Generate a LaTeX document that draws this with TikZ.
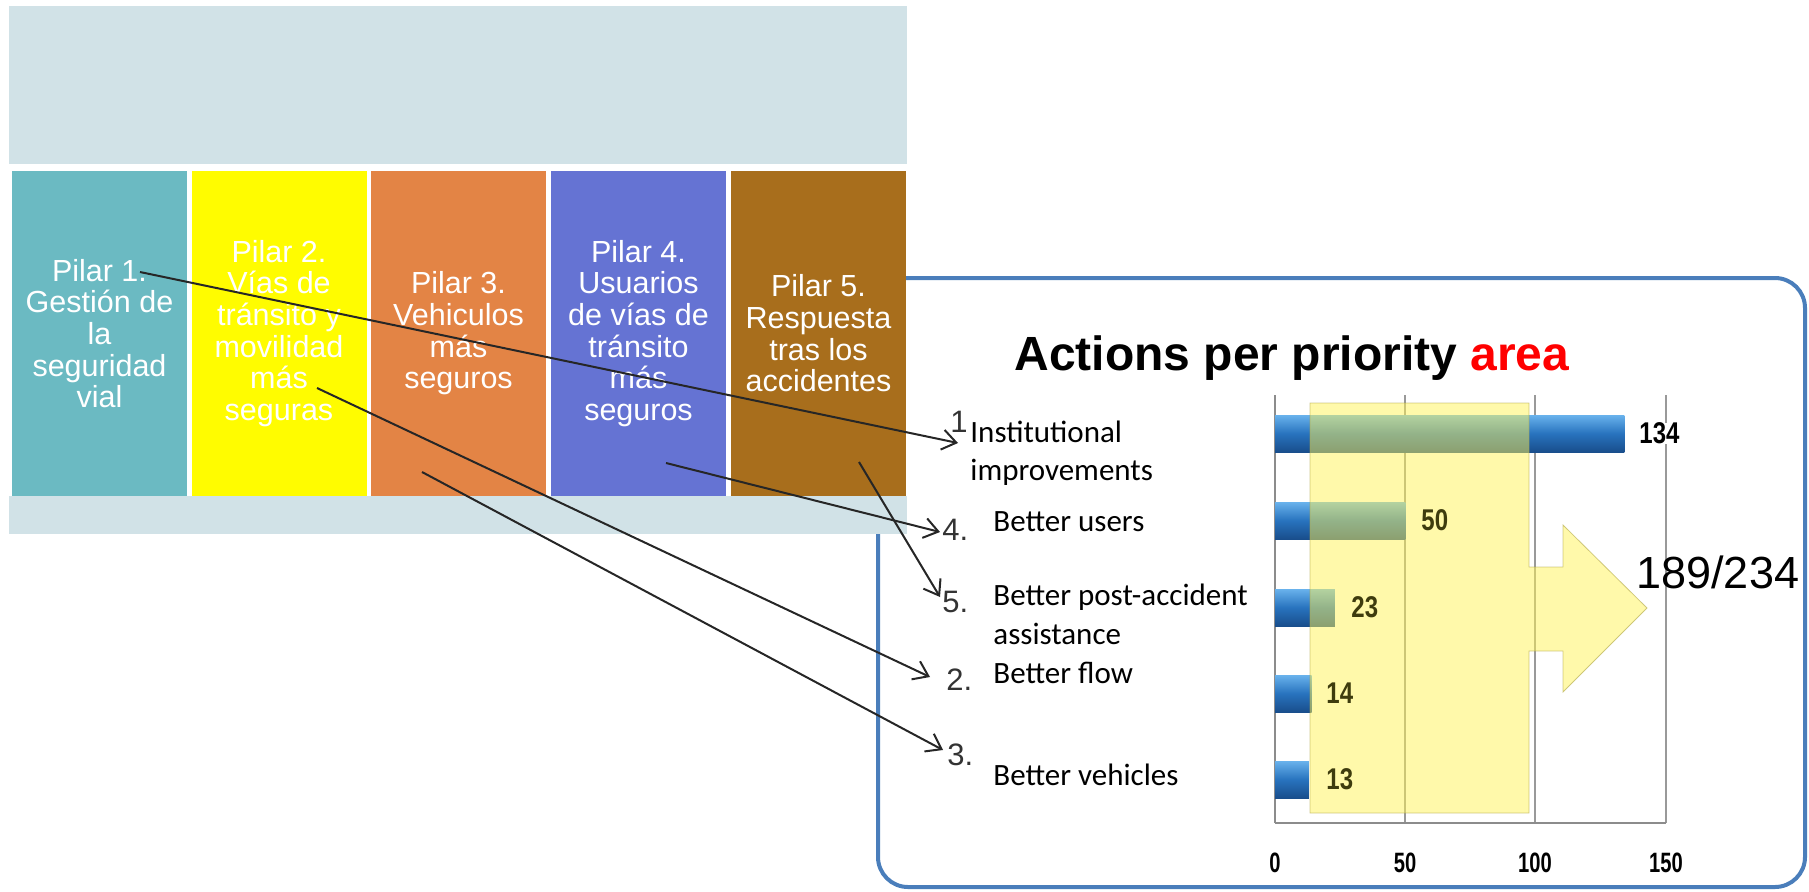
\documentclass[tikz,border=0pt]{standalone}
\usepackage{fontspec}
\setmainfont{Liberation Sans}
\newfontfamily\calibfont{Carlito}
\newfontfamily\narrowfont[FakeStretch=0.8]{Liberation Sans}
\newfontfamily\tickfont[FakeStretch=0.72]{Liberation Sans}
\usetikzlibrary{arrows.meta}

\definecolor{bandgray}{RGB}{209,226,231}
\definecolor{pilarA}{RGB}{107,186,194}
\definecolor{pilarB}{RGB}{255,252,0}
\definecolor{pilarC}{RGB}{227,132,69}
\definecolor{pilarD}{RGB}{101,115,211}
\definecolor{pilarE}{RGB}{168,110,28}
\definecolor{panelblue}{RGB}{74,126,187}
\definecolor{barlight}{RGB}{105,178,236}
\definecolor{barmid}{RGB}{40,115,190}
\definecolor{bardark}{RGB}{25,78,140}
\definecolor{hilite}{RGB}{255,243,85}
\definecolor{hiliteedge}{RGB}{175,165,70}
\definecolor{olivetext}{RGB}{62,60,14}

\begin{document}
\begin{tikzpicture}[x=0.5pt, y=-0.5pt,
  pilar/.style={minimum width=87.5pt, minimum height=162.5pt, inner sep=0pt, outer sep=0pt,
    text=white, align=center, font=\fontsize{15.25pt}{15.85pt}\selectfont},
  itemlabel/.style={anchor=base west, inner sep=0pt, font=\calibfont\fontsize{15.5pt}{19pt}\selectfont},
  itemnum/.style={anchor=base west, inner sep=0pt, text=black!80, font=\fontsize{15.5pt}{18pt}\selectfont},
  barval/.style={anchor=west, inner sep=0pt, font=\narrowfont\bfseries\fontsize{15pt}{18pt}\selectfont},
  tick/.style={inner sep=0pt, font=\tickfont\bfseries\fontsize{14pt}{17pt}\selectfont},
  link/.style={-{Straight Barb[length=7pt,width=10pt]}, line width=1pt, black!85}]

\useasboundingbox (0,0) rectangle (1809,891);

% panel with the chart, partly hidden by the pillars
\draw[panelblue, line width=2pt, rounded corners=15pt] (878,278) rectangle (1805,887);

% bands and pillars
\fill[bandgray] (9,6) rectangle (907,164);
\fill[bandgray] (9,496) rectangle (907,534);
\node[pilar, fill=pilarA] (p1) at (99.5,333.5) {Pilar 1.\\Gestión de\\la\\seguridad\\vial};
\node[pilar, fill=pilarB] (p2) at (279,333.5) {Pilar 2.\\Vías de\\tránsito y\\movilidad\\más\\seguras};
\node[pilar, fill=pilarC] (p3) at (458.5,333.5) {Pilar 3.\\Vehiculos\\más\\seguros};
\node[pilar, fill=pilarD] (p4) at (638.5,333.5) {Pilar 4.\\Usuarios\\de vías de\\tránsito\\más\\seguros};
\node[pilar, fill=pilarE] (p5) at (818.5,333.5) {Pilar 5.\\Respuesta\\tras los\\accidentes};

% title
\node[anchor=base west, inner sep=0pt, font=\bfseries\fontsize{24pt}{28pt}\selectfont] (title)
  at (1014,370) {Actions per priority \textcolor{red}{area}};

% grid and axes
\foreach \gx in {1405,1535,1666}
  \draw[gray!80, line width=0.6pt] (\gx,395) -- (\gx,823);
\draw[gray!90, line width=0.7pt] (1275,395) -- (1275,823);
\draw[gray!90, line width=1pt] (1275,823) -- (1666,823);
\node[tick] (t0) at (1275,863) {0};
\node[tick] (t50) at (1405,863) {50};
\node[tick] (t100) at (1535,863) {100};
\node[tick] (t150) at (1666,863) {150};

% bars
\foreach \v/\y in {134/433.5, 50/520.5, 23/607.5, 14/693.5, 13/779.5}
  \shade[top color=barlight, bottom color=bardark, middle color=barmid]
    (1275,\y-18.5) rectangle ({1275+\v*2.607},\y+18.5);

% yellow highlight arrow over the chart
\filldraw[fill=hilite, draw=hiliteedge, line width=0.4pt, fill opacity=0.5, draw opacity=0.6]
  (1310,403) -- (1529,403) -- (1529,567) -- (1563,567) -- (1563,525) -- (1647,608)
  -- (1563,692) -- (1563,651) -- (1529,651) -- (1529,813) -- (1310,813) -- cycle;

\node[barval, fill=white] (v134) at (1639,433.5) {134};
\node[barval, text=olivetext] (v50) at (1421,520.5) {50};
\node[barval, text=olivetext] (v23) at (1351,607.5) {23};
\node[barval, text=olivetext] (v14) at (1326,693.5) {14};
\node[barval, text=olivetext] (v13) at (1326,779.5) {13};

\node[anchor=base west, inner sep=0pt, font=\fontsize{22.5pt}{26pt}\selectfont] (total) at (1636,588) {189/234};

% list of areas
\node[itemnum] (n1) at (950,432) {1};
\node[itemlabel] (l1) at (970,442) {Institutional};
\node[itemlabel] (l1b) at (970,480) {improvements};
\node[itemnum] (n4) at (942,540) {4.};
\node[itemlabel] (l4) at (993,531) {Better users};
\node[itemnum] (n5) at (942,612) {5.};
\node[itemlabel] (l5) at (993,605) {Better post-accident};
\node[itemnum] (n2) at (946,690) {2.};
\node[itemlabel] (l5b) at (993,644) {assistance};
\node[itemlabel] (l2) at (993,683) {Better flow};
\node[itemnum] (n3) at (947,765) {3.};
\node[itemlabel] (l3) at (993,785) {Better vehicles};

% links from the pillars to the areas
\coordinate (s1) at (140,272);
\coordinate (s2) at (317,388);
\coordinate (s3) at (422,472);
\coordinate (s4) at (666,463);
\coordinate (s5) at (859,462);
\coordinate (e1) at (958,443);
\coordinate (e2) at (930,677);
\coordinate (e3) at (943,750);
\coordinate (e4) at (940,532);
\coordinate (e5) at (940,597);
\draw[link] (s1) -- (e1);
\draw[link] (s2) -- (e2);
\draw[link] (s3) -- (e3);
\draw[link] (s4) -- (e4);
\draw[link] (s5) -- (e5);
\end{tikzpicture}
\end{document}
